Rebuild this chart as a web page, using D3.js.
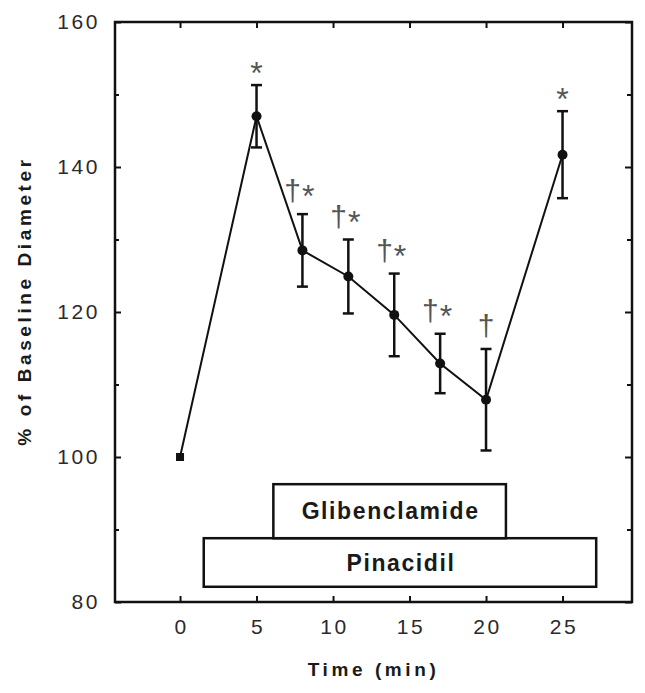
<!DOCTYPE html>
<html>
<head>
<meta charset="utf-8">
<script src="https://cdn.jsdelivr.net/npm/d3@7"></script>
<style>
  body { margin: 0; background: #fff; }
  svg { display: block; font-family: "Liberation Sans", Arial, sans-serif; }
</style>
</head>
<body>
<svg id="chart"></svg>
<script>
// time points (min) and mean % of baseline diameter
const times = [0, 5, 8, 11, 14, 17, 20, 25];
const means = [100, 147, 128.5, 124.9, 119.6, 112.9, 107.9, 141.7];
const sem = [0, 4.3, 5.0, 5.1, 5.7, 4.1, 7.0, 6.0];
const marks = ["", "*", "†*", "†*", "†*", "†*", "†", "*"];

// drug application bars (in axis units)
const drugNames = ["Pinacidil", "Glibenclamide"];
const drugStart = [1.55, 6.1];
const drugEnd = [27.2, 21.3];
const drugTop = [88.8, 96.25];
const drugBottom = [82.1, 88.8];

const xTicks = [0, 5, 10, 15, 20, 25];
const yMajor = [80, 100, 120, 140, 160];
const yMinor = [90, 110, 130, 150];

const width = 645, height = 693;
const margin = { top: 22, right: 13, bottom: 91, left: 115 };

const svg = d3.select("#chart")
    .attr("width", width)
    .attr("height", height)
    .attr("viewBox", [0, 0, width, height]);

const x = d3.scaleLinear().domain([-4.25, 29.54]).range([margin.left, width - margin.right]);
const y = d3.scaleLinear().domain([80, 160]).range([height - margin.bottom, margin.top]);

const tickFont = g => g.selectAll("text")
    .style("font-size", "21px")
    .style("letter-spacing", "2.6px")
    .style("fill", "#2a2a2a");

const cleanAxis = g => {
    g.select(".domain").remove();
    g.selectAll("line").attr("stroke", "#111").attr("stroke-width", 2);
};

// left axis, labelled
svg.append("g")
    .attr("transform", `translate(${margin.left},0)`)
    .call(d3.axisLeft(y).tickValues(yMajor).tickSize(-6).tickPadding(15).tickFormat(d3.format("d")))
    .call(cleanAxis).call(tickFont);
svg.append("g")
    .attr("transform", `translate(${margin.left},0)`)
    .call(d3.axisLeft(y).tickValues(yMinor).tickSize(-4).tickFormat(""))
    .call(cleanAxis);

// right axis, ticks only
svg.append("g")
    .attr("transform", `translate(${width - margin.right},0)`)
    .call(d3.axisRight(y).tickValues(yMajor).tickSize(-7).tickFormat(""))
    .call(cleanAxis);
svg.append("g")
    .attr("transform", `translate(${width - margin.right},0)`)
    .call(d3.axisRight(y).tickValues(yMinor).tickSize(-5).tickFormat(""))
    .call(cleanAxis);

// bottom axis, labelled
svg.append("g")
    .attr("transform", `translate(0,${height - margin.bottom})`)
    .call(d3.axisBottom(x).tickValues(xTicks).tickSize(-6).tickPadding(17).tickFormat(d3.format("d")))
    .call(cleanAxis).call(tickFont)
    .selectAll("text").attr("dx", "1px");

// top axis, ticks only
svg.append("g")
    .attr("transform", `translate(0,${margin.top})`)
    .call(d3.axisTop(x).tickValues(xTicks).tickSize(-6).tickFormat(""))
    .call(cleanAxis);

// frame
svg.append("rect")
    .attr("x", margin.left)
    .attr("y", margin.top)
    .attr("width", width - margin.left - margin.right)
    .attr("height", height - margin.top - margin.bottom)
    .attr("fill", "none")
    .attr("stroke", "#111")
    .attr("stroke-width", 2.5);

// drug bars
const drugs = drugNames.map((name, i) => ({ name, start: drugStart[i], end: drugEnd[i], top: drugTop[i], bottom: drugBottom[i] }));
const drug = svg.append("g").selectAll("g").data(drugs).join("g");
drug.append("rect")
    .attr("x", d => x(d.start))
    .attr("y", d => y(d.top))
    .attr("width", d => x(d.end) - x(d.start))
    .attr("height", d => y(d.bottom) - y(d.top))
    .attr("fill", "#fff")
    .attr("stroke", "#111")
    .attr("stroke-width", 2.5);
drug.append("text")
    .attr("x", d => (x(d.start) + x(d.end)) / 2 + 1)
    .attr("y", d => (y(d.top) + y(d.bottom)) / 2)
    .attr("dy", "0.36em")
    .attr("text-anchor", "middle")
    .style("font-size", "23px")
    .style("font-weight", "bold")
    .style("letter-spacing", "1.6px")
    .style("fill", "#1a1a1a")
    .text(d => d.name);

const points = times.map((t, i) => ({ t, m: means[i], e: sem[i], mark: marks[i] }));

// connecting line
svg.append("path")
    .datum(points)
    .attr("fill", "none")
    .attr("stroke", "#111")
    .attr("stroke-width", 2)
    .attr("d", d3.line().x(d => x(d.t)).y(d => y(d.m)));

// error bars
const bars = svg.append("g")
    .attr("stroke", "#111")
    .attr("stroke-width", 2.5)
    .selectAll("g")
    .data(points.filter(d => d.e > 0))
    .join("g");
bars.append("line")
    .attr("x1", d => x(d.t)).attr("x2", d => x(d.t))
    .attr("y1", d => y(d.m + d.e)).attr("y2", d => y(d.m - d.e));
bars.append("line")
    .attr("x1", d => x(d.t) - 5.5).attr("x2", d => x(d.t) + 5.5)
    .attr("y1", d => y(d.m + d.e)).attr("y2", d => y(d.m + d.e));
bars.append("line")
    .attr("x1", d => x(d.t) - 5.5).attr("x2", d => x(d.t) + 5.5)
    .attr("y1", d => y(d.m - d.e)).attr("y2", d => y(d.m - d.e));

// markers: baseline square, then filled dots
svg.append("g").selectAll("rect")
    .data(points.filter(d => d.t === 0))
    .join("rect")
    .attr("x", d => x(d.t) - 4)
    .attr("y", d => y(d.m) - 4)
    .attr("width", 8).attr("height", 8)
    .attr("fill", "#111");
svg.append("g").selectAll("circle")
    .data(points.filter(d => d.t !== 0))
    .join("circle")
    .attr("cx", d => x(d.t))
    .attr("cy", d => y(d.m))
    .attr("r", 5)
    .attr("fill", "#111");

// significance marks
const sig = svg.append("g")
    .selectAll("text")
    .data(points.filter(d => d.mark))
    .join("text")
    .attr("x", d => x(d.t))
    .attr("y", d => y(d.m + d.e) - (d.mark.includes("†") ? 13 : 1))
    .attr("dx", d => d.mark.length > 1 ? -3 : 0)
    .attr("text-anchor", "middle")
    .style("font-size", "32px")
    .style("fill", "#555");
sig.each(function (d) {
    const t = d3.select(this);
    if (d.mark.includes("†")) {
        t.append("tspan").style("font-size", "30px").text("†");
        if (d.mark.includes("*")) t.append("tspan").attr("dx", "1").attr("dy", "6").text("*");
    } else {
        t.text(d.mark);
    }
});

// axis titles
svg.append("text")
    .attr("x", (margin.left + width - margin.right) / 2)
    .attr("y", 676)
    .attr("text-anchor", "middle")
    .style("font-size", "19px")
    .style("font-weight", "bold")
    .style("letter-spacing", "3.6px")
    .style("fill", "#1a1a1a")
    .text("Time (min)");

svg.append("text")
    .attr("transform", `translate(31,${(margin.top + height - margin.bottom) / 2 - 11}) rotate(-90)`)
    .attr("text-anchor", "middle")
    .style("font-size", "19px")
    .style("font-weight", "bold")
    .style("letter-spacing", "3.6px")
    .style("fill", "#1a1a1a")
    .text("% of Baseline Diameter");
</script>
</body>
</html>
